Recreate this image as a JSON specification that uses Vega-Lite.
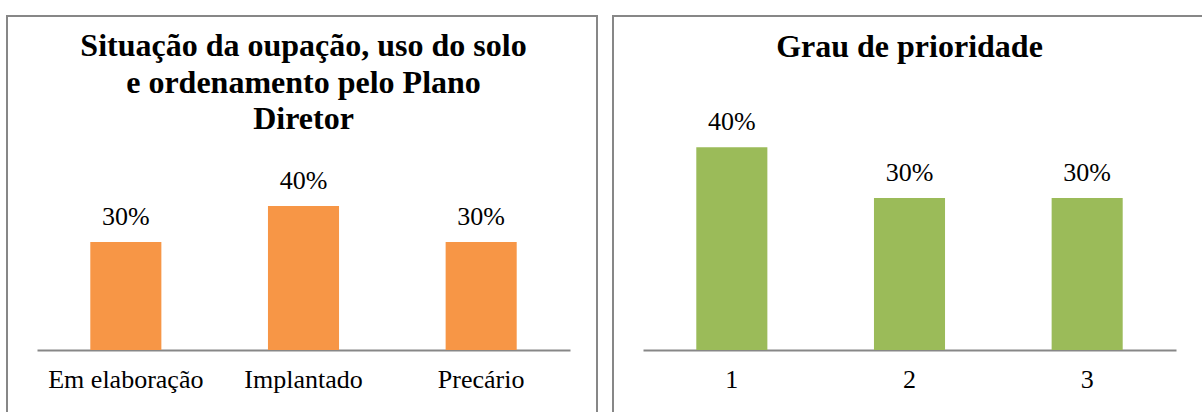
{
  "$schema": "https://vega.github.io/schema/vega-lite/v6.json",
  "padding": {"left": 6, "top": 15, "right": 0, "bottom": 0},
  "background": "white",
  "config": {
    "view": {"stroke": "#878787", "strokeWidth": 2},
    "font": "Liberation Serif",
    "concat": {"spacing": 14}
  },
  "datasets": {
    "ocupacao": [
      {"categoria": "Em elaboração", "valor": 0.3},
      {"categoria": "Implantado", "valor": 0.4},
      {"categoria": "Precário", "valor": 0.3}
    ],
    "prioridade": [
      {"grau": "1", "valor": 0.4},
      {"grau": "2", "valor": 0.3},
      {"grau": "3", "valor": 0.3}
    ]
  },
  "hconcat": [
    {
      "width": 590,
      "height": 397,
      "layer": [
        {
          "data": {"name": "ocupacao"},
          "mark": {"type": "bar", "color": "#F79646"},
          "encoding": {
            "x": {
              "field": "categoria",
              "type": "nominal",
              "sort": null,
              "scale": {"range": [30, 563], "paddingInner": 0.6, "paddingOuter": 0.3},
              "axis": {
                "title": null,
                "orient": "bottom",
                "offset": -63,
                "domainColor": "#878787",
                "domainWidth": 2,
                "ticks": false,
                "grid": false,
                "labelAngle": 0,
                "labelFont": "Liberation Serif",
                "labelFontSize": 26,
                "labelColor": "black",
                "labelPadding": 16
              }
            },
            "y": {
              "field": "valor",
              "type": "quantitative",
              "scale": {"domain": [0, 0.5], "range": [334, 154]},
              "axis": null
            }
          }
        },
        {
          "data": {"name": "ocupacao"},
          "mark": {"type": "text", "baseline": "alphabetic", "dy": -17, "fontSize": 26, "font": "Liberation Serif", "color": "black"},
          "encoding": {
            "x": {"field": "categoria", "type": "nominal", "sort": null},
            "y": {"field": "valor", "type": "quantitative"},
            "text": {"field": "valor", "type": "quantitative", "format": ".0%"}
          }
        },
        {
          "data": {"values": [{"titulo": "Situação da oupação, uso do solo"}]},
          "mark": {
            "type": "text",
            "text": ["Situação da oupação, uso do solo", "e ordenamento pelo Plano", "Diretor"],
            "font": "Liberation Serif",
            "fontSize": 32,
            "fontWeight": "bold",
            "color": "black",
            "align": "center",
            "baseline": "top",
            "lineHeight": 36.5
          },
          "encoding": {
            "x": {"datum": "Implantado", "type": "nominal"},
            "y": {"datum": 0.885, "type": "quantitative"}
          }
        }
      ]
    },
    {
      "width": 594,
      "height": 397,
      "view": {"stroke": "#878787", "strokeWidth": 2, "strokeDash": [594, 397, 991]},
      "layer": [
        {
          "data": {"name": "prioridade"},
          "mark": {"type": "bar", "color": "#9BBB59"},
          "encoding": {
            "x": {
              "field": "grau",
              "type": "nominal",
              "sort": null,
              "scale": {"range": [30, 563], "paddingInner": 0.6, "paddingOuter": 0.3},
              "axis": {
                "title": null,
                "orient": "bottom",
                "offset": -63,
                "domainColor": "#878787",
                "domainWidth": 2,
                "ticks": false,
                "grid": false,
                "labelAngle": 0,
                "labelFont": "Liberation Serif",
                "labelFontSize": 26,
                "labelColor": "black",
                "labelPadding": 16
              }
            },
            "y": {
              "field": "valor",
              "type": "quantitative",
              "scale": {"domain": [0, 0.5], "range": [334, 80.5]},
              "axis": null
            }
          }
        },
        {
          "data": {"name": "prioridade"},
          "mark": {"type": "text", "baseline": "alphabetic", "dy": -17, "fontSize": 26, "font": "Liberation Serif", "color": "black"},
          "encoding": {
            "x": {"field": "grau", "type": "nominal", "sort": null},
            "y": {"field": "valor", "type": "quantitative"},
            "text": {"field": "valor", "type": "quantitative", "format": ".0%"}
          }
        },
        {
          "data": {"values": [{"titulo": "Grau de prioridade"}]},
          "mark": {
            "type": "text",
            "font": "Liberation Serif",
            "fontSize": 32,
            "fontWeight": "bold",
            "color": "black",
            "align": "center",
            "baseline": "top"
          },
          "encoding": {
            "text": {"field": "titulo"},
            "x": {"datum": "2", "type": "nominal"},
            "y": {"datum": 0.627, "type": "quantitative"}
          }
        }
      ]
    }
  ]
}
